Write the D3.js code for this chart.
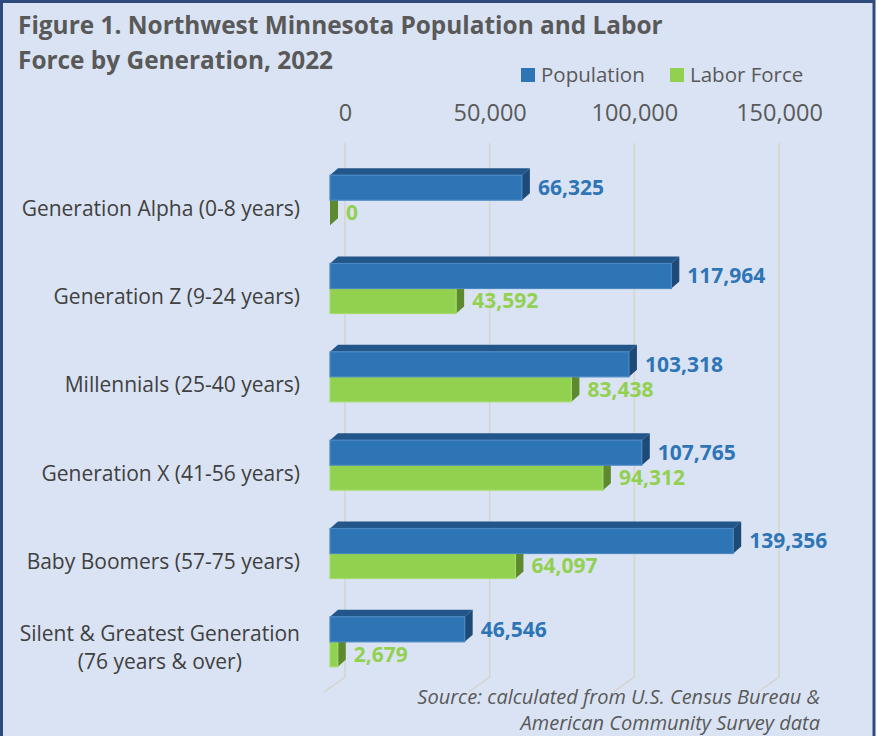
<!DOCTYPE html>
<html lang="en">

<head>
    <meta charset="utf-8">
    <script src="https://cdn.jsdelivr.net/npm/d3@7"></script>
    <style>
        body { margin: 0; background: #fff; }
        svg text { font-family: "Open Sans", sans-serif; }
    </style>
</head>

<body>
    <div id="my_dataviz"></div>

    <script>
        // data
        const categories = [
            "Generation Alpha (0-8 years)",
            "Generation Z (9-24 years)",
            "Millennials (25-40 years)",
            "Generation X (41-56 years)",
            "Baby Boomers (57-75 years)",
            "Silent & Greatest Generation|(76 years & over)"
        ];
        const population = [66325, 117964, 103318, 107765, 139356, 46546];
        const laborForce = [0, 43592, 83438, 94312, 64097, 2679];
        const tickValues = [0, 50000, 100000, 150000];

        const W = 877, H = 736;
        const depth = { dx: 8, dy: -7 };      // bar depth
        const back = { dx: 15, dy: -15 };     // back wall offset
        const barH = 25;

        const svg = d3.select("#my_dataviz")
            .append("svg")
            .attr("width", W)
            .attr("height", H);

        // background + frame
        svg.append("rect")
            .attr("x", 1.5).attr("y", 1.5)
            .attr("width", W - 4.5).attr("height", H + 10)
            .attr("fill", "#dae3f3")
            .attr("stroke", "#2f4b7c")
            .attr("stroke-width", 3);

        // scales
        const x = d3.scaleLinear().domain([0, 150000]).range([330, 764]);
        const y = d3.scaleBand().domain(categories).range([156, 686]);
        const mid = c => y(c) + y.bandwidth() / 2;

        // grid lines (back wall + floor)
        const gridTop = 143, gridBottom = 677;
        svg.append("g").selectAll("path")
            .data(tickValues)
            .join("path")
            .attr("d", d => {
                const xb = x(d) + back.dx;
                return `M${xb},${gridTop}L${xb},${gridBottom}L${xb - 21},${gridBottom + 15}`;
            })
            .attr("fill", "none")
            .attr("stroke", "#d6d4cc")
            .attr("stroke-width", 1.5);

        // axis labels on top
        const xBack = x.copy().range(x.range().map(v => v + back.dx));
        const axis = svg.append("g")
            .attr("transform", "translate(0,113)")
            .call(d3.axisTop(xBack).tickValues(tickValues).tickSize(0).tickFormat(d3.format(",")));
        axis.select(".domain").remove();
        axis.selectAll("text")
            .attr("y", 0).attr("dy", "0.32em")
            .style("font-family", "'Open Sans', sans-serif")
            .style("font-size", "23.5px")
            .attr("fill", "#595959");

        // draws one 3D bar
        function bar3d(g, x0, x1, y0, front, top, side, edge) {
            const h = barH;
            g.append("path")
                .attr("d", `M${x0},${y0}L${x0 + depth.dx},${y0 + depth.dy}L${x1 + depth.dx},${y0 + depth.dy}L${x1},${y0}Z`)
                .attr("fill", top);
            g.append("path")
                .attr("d", `M${x1},${y0}L${x1 + depth.dx},${y0 + depth.dy}L${x1 + depth.dx},${y0 + h + depth.dy}L${x1},${y0 + h}Z`)
                .attr("fill", side);
            g.append("rect")
                .attr("x", x0).attr("y", y0)
                .attr("width", Math.max(0, x1 - x0)).attr("height", h)
                .attr("fill", front)
                .attr("stroke", edge).attr("stroke-width", 1.2);
        }

        const bars = svg.append("g");
        categories.forEach((c, i) => {
            const m = mid(c);
            // labor force first so population covers its top face
            bar3d(bars, x(0), x(laborForce[i]), m, "#92d050", "#7bb33f", "#5e8a2f", "#a6dc6e");
            bar3d(bars, x(0), x(population[i]), m - barH, "#2e75b6", "#22558a", "#1e4a78", "#4a88c2");
        });

        // value labels
        const fmt = d3.format(",");
        svg.append("g").selectAll("text")
            .data(population)
            .join("text")
            .attr("x", d => x(d) + 16)
            .attr("y", (d, i) => mid(categories[i]) - barH / 2)
            .attr("dy", "0.35em")
            .attr("fill", "#2e75b6")
            .style("font-size", "21px")
            .style("font-weight", "bold")
            .text(d => fmt(d));

        svg.append("g").selectAll("text")
            .data(laborForce)
            .join("text")
            .attr("x", d => x(d) + 16)
            .attr("y", (d, i) => mid(categories[i]) + barH / 2)
            .attr("dy", "0.35em")
            .attr("fill", "#92d050")
            .style("font-size", "21px")
            .style("font-weight", "bold")
            .text(d => fmt(d));

        // category labels (multi-line labels are centred on their widest line)
        const catG = svg.append("g");
        const labelRight = 300;
        categories.forEach(c => {
            const lines = c.split("|");
            const m = mid(c);
            const t = catG.append("text")
                .attr("fill", "#404040")
                .style("font-size", "21px");
            const spans = lines.map((l, k) => t.append("tspan")
                .attr("y", lines.length === 1 ? m + 8 : m - 8 + k * 28)
                .attr("dy", "0.35em")
                .text(l));
            if (lines.length === 1) {
                t.attr("text-anchor", "end");
                spans[0].attr("x", labelRight);
            } else {
                const wMax = d3.max(spans, s => s.node().getComputedTextLength());
                t.attr("text-anchor", "middle");
                spans.forEach(s => s.attr("x", labelRight - wMax / 2));
            }
        });

        // title
        const title = svg.append("text")
            .attr("fill", "#595959")
            .style("font-size", "24.4px")
            .style("font-weight", "bold");
        title.append("tspan").attr("x", 18).attr("y", 34).text("Figure 1. Northwest Minnesota Population and Labor");
        title.append("tspan").attr("x", 18).attr("y", 69).text("Force by Generation, 2022");

        // legend
        const legend = [
            { name: "Population", color: "#2e75b6", x: 521 },
            { name: "Labor Force", color: "#92d050", x: 670 }
        ];
        const lg = svg.append("g").selectAll("g")
            .data(legend)
            .join("g")
            .attr("transform", d => `translate(${d.x},68)`);
        lg.append("rect").attr("width", 14).attr("height", 14).attr("fill", d => d.color);
        lg.append("text")
            .attr("x", 20).attr("y", 7).attr("dy", "0.35em")
            .attr("fill", "#595959")
            .style("font-size", "20.5px")
            .text(d => d.name);

        // source note
        const src = svg.append("text")
            .attr("text-anchor", "end")
            .attr("fill", "#595959")
            .style("font-size", "20px")
            .style("font-style", "italic");
        src.append("tspan").attr("x", 820).attr("y", 704).text("Source: calculated from U.S. Census Bureau &");
        src.append("tspan").attr("x", 820).attr("y", 730).text("American Community Survey data");
    </script>

</body>

</html>
